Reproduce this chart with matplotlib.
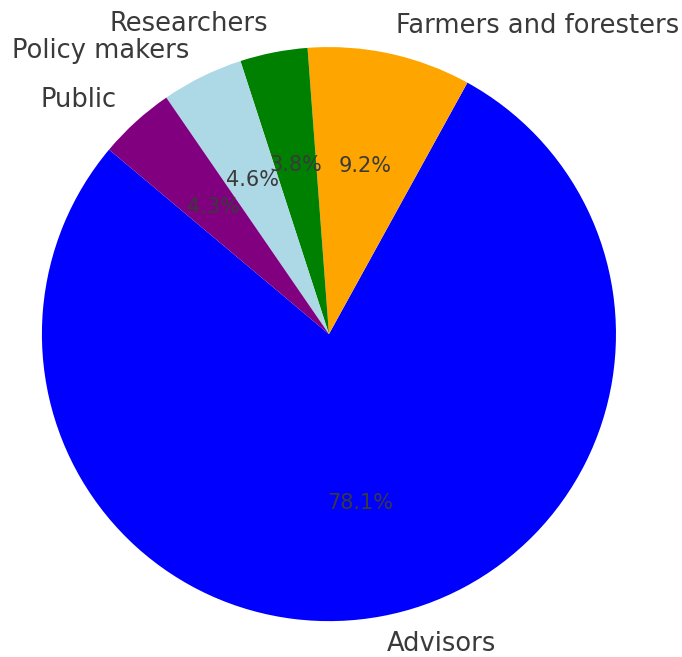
import matplotlib
matplotlib.use("Agg")
import matplotlib.pyplot as plt

labels = ["Advisors", "Farmers and foresters", "Researchers", "Policy makers", "Public"]
shares = [78.1, 9.2, 3.8, 4.6, 4.3]
colors = ["blue", "orange", "green", "lightblue", "purple"]

fig = plt.figure(figsize=(6.82, 6.57), dpi=100)
ax = fig.add_axes([0, 0, 1, 1])

wedges, texts, autotexts = ax.pie(
    shares,
    labels=labels,
    colors=colors,
    autopct="%1.1f%%",
    startangle=140,
    textprops={"color": "#3a3a3a"},
)
for t in texts:
    t.set_fontsize(18.5)
for t in autotexts:
    t.set_fontsize(15)

ax.set_aspect("equal")
ax.set_xlim(-1.146, 1.230)
ax.set_ylim(-1.125, 1.164)
ax.axis("off")

fig.savefig("out.png", dpi=100)
